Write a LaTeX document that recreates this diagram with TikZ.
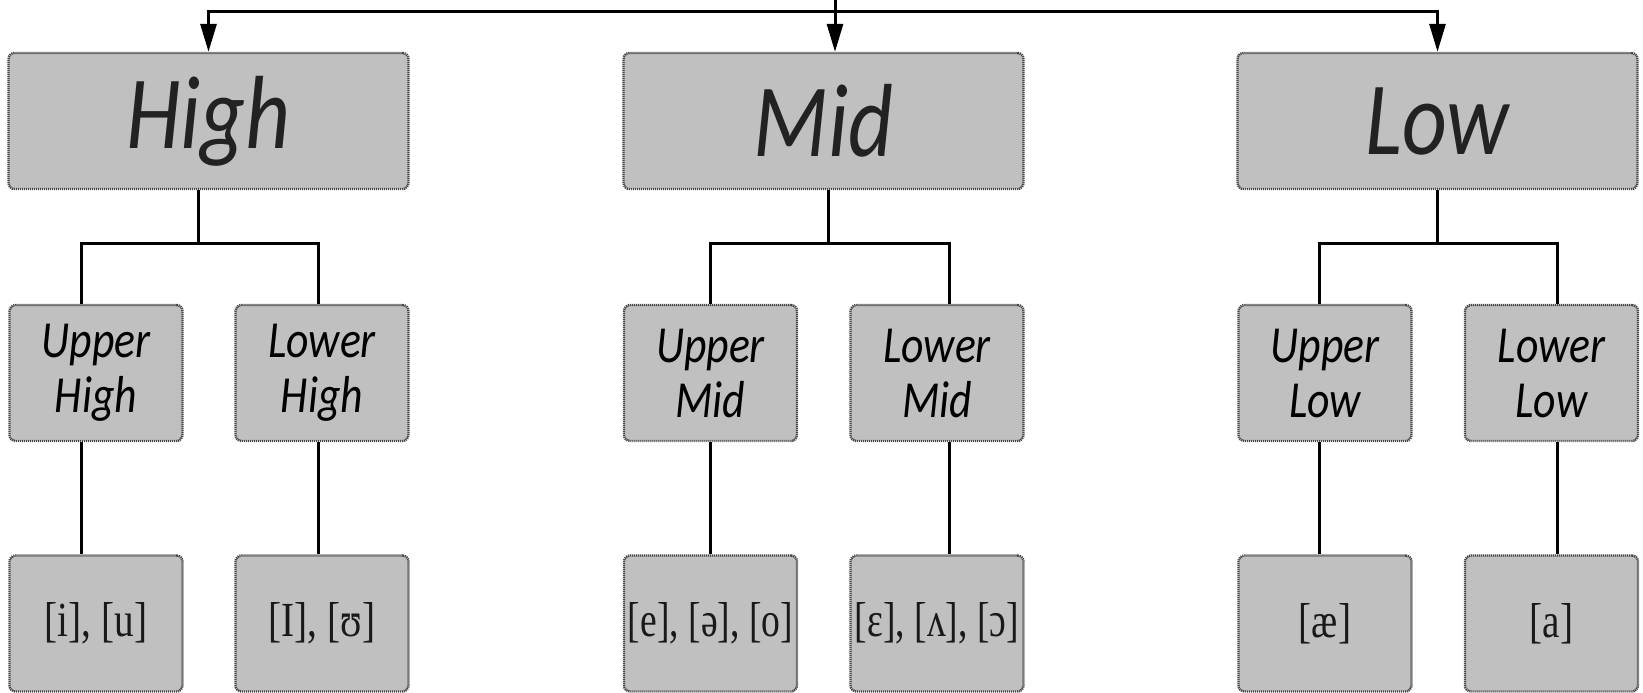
\documentclass[tikz,border=0pt]{standalone}
\usepackage{fontspec}
\usetikzlibrary{arrows.meta}
\newfontfamily\labelfont[FakeStretch=0.84]{Carlito}
\newfontfamily\ipafont[FakeStretch=0.8]{Liberation Serif}
\definecolor{boxfill}{RGB}{192,192,192}
\definecolor{boxline}{RGB}{70,70,70}
\definecolor{labeltext}{RGB}{34,34,34}

\begin{document}
\begin{tikzpicture}[x=0.5pt,y=-0.5pt,
  box/.style={draw=boxline, fill=boxfill, line width=1.2pt,
    dash pattern=on 0.6pt off 0.4pt, rounded corners=3pt,
    inner sep=0pt, minimum height=68pt},
  tier/.style={box, minimum width=200pt, text=labeltext,
    font=\labelfont\itshape\fontsize{52}{56}\selectfont},
  sub/.style={box, minimum width=86.5pt, align=center,
    font=\labelfont\itshape\fontsize{26}{27.5}\selectfont},
  leaf/.style={box, minimum width=86.5pt, text=black!90,
    font=\ipafont\fontsize{24.5}{28}\selectfont},
  link/.style={line width=1.5pt, black},
  arr/.style={link, -{Triangle[length=14pt,width=8pt]}}
]
\useasboundingbox (0,0) rectangle (1643,692);

% vowel height classes
\node[tier] (high) at (208.5,121) {High};
\node[tier] (mid)  at (823.5,121) {Mid};
\node[tier] (low)  at (1437.5,121) {Low};

% subclasses
\node[sub] (uh) at (96,373)    {Upper\\High};
\node[sub] (lh) at (322,373)   {Lower\\High};
\node[sub] (um) at (710.5,373) {Upper\\Mid};
\node[sub] (lm) at (937,373)   {Lower\\Mid};
\node[sub] (ul) at (1325,373)  {Upper\\Low};
\node[sub] (ll) at (1551.5,373){Lower\\Low};

% example vowels
\node[leaf] (uh3) at (96,623.5)     {[i], [u]};
\node[leaf] (lh3) at (322,623.5)    {[I], [ʊ]};
\node[leaf] (um3) at (710.5,623.5)  {\scalebox{0.96}[1]{[e], [ə], [o]}};
\node[leaf] (lm3) at (937,623.5)    {\scalebox{0.96}[1]{[ɛ], [ʌ], [ɔ]}};
\node[leaf] (ul3) at (1325,623.5)   {[æ]};
\node[leaf] (ll3) at (1551.5,623.5) {[a]};

% root and distribution bar
\coordinate (root) at (835,0);
\coordinate (bar)  at (835,11);
\draw[arr] (root) -- (mid.north -| root);
\draw[arr] (bar) -| (high.north);
\draw[arr] (bar) -| (low.north);

% branch points
\coordinate (hP) at (198,243);  \coordinate (hA) at (81,243);   \coordinate (hB) at (318,243);
\coordinate (mP) at (828,243);  \coordinate (mA) at (710,243);  \coordinate (mB) at (949,243);
\coordinate (lP) at (1437,243); \coordinate (lA) at (1319,243); \coordinate (lB) at (1557,243);

% High branch
\draw[link] (high.south -| hP) -- (hP);
\draw[link] (uh.north -| hA) -- (hA) -- (hB) -- (lh.north -| hB);
\draw[link] (uh.south -| hA) -- (uh3.north -| hA);
\draw[link] (lh.south -| hB) -- (lh3.north -| hB);

% Mid branch
\draw[link] (mid.south -| mP) -- (mP);
\draw[link] (um.north -| mA) -- (mA) -- (mB) -- (lm.north -| mB);
\draw[link] (um.south -| mA) -- (um3.north -| mA);
\draw[link] (lm.south -| mB) -- (lm3.north -| mB);

% Low branch
\draw[link] (low.south -| lP) -- (lP);
\draw[link] (ul.north -| lA) -- (lA) -- (lB) -- (ll.north -| lB);
\draw[link] (ul.south -| lA) -- (ul3.north -| lA);
\draw[link] (ll.south -| lB) -- (ll3.north -| lB);
\end{tikzpicture}
\end{document}
